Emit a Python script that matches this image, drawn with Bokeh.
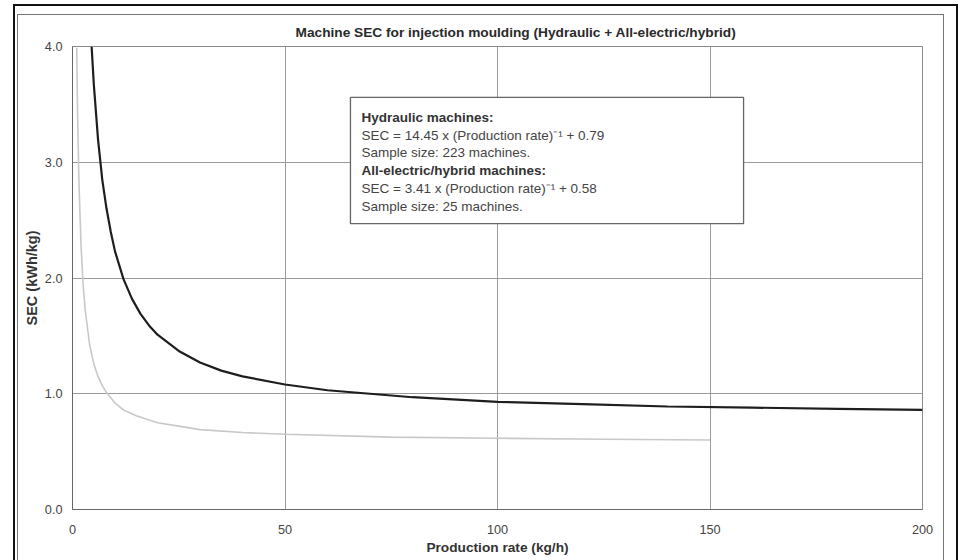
from bokeh.plotting import figure
from bokeh.models import Range1d, BoxAnnotation, Label, FixedTicker, PrintfTickFormatter
from bokeh.embed import file_html
from bokeh.resources import INLINE

# ---- data ----
title_text = "Machine SEC for injection moulding (Hydraulic + All-electric/hybrid)"
x_title = "Production rate (kg/h)"
y_title = "SEC (kWh/kg)"
x_ticks = [0, 50, 100, 150, 200]
y_ticks = [0, 1, 2, 3, 4]

hyd_rate = [4.5, 5, 6, 7, 8, 9, 10, 12, 14, 16, 18, 20, 25, 30, 35, 40, 50, 60, 70, 80,
            100, 120, 140, 160, 180, 200]
hyd_sec = [4.0, 3.68, 3.20, 2.85, 2.60, 2.40, 2.23, 1.99, 1.82, 1.69, 1.59, 1.51, 1.37, 1.27,
           1.20, 1.15, 1.08, 1.03, 1.00, 0.97, 0.93, 0.91, 0.89, 0.88, 0.87, 0.86]

ele_rate = [1.0, 1.2, 1.5, 2, 2.5, 3, 4, 5, 6, 7, 8, 10, 12, 15, 20, 25, 30, 40, 50, 75,
            100, 125, 150]
ele_sec = [3.99, 3.42, 2.85, 2.29, 1.94, 1.72, 1.43, 1.26, 1.15, 1.07, 1.01, 0.92, 0.86, 0.81,
           0.75, 0.72, 0.69, 0.665, 0.65, 0.625, 0.615, 0.607, 0.60]

note_lines = [
    "Hydraulic machines:",
    "SEC = 14.45 x (Production rate)\u207b\u00b9 + 0.79",
    "Sample size: 223 machines.",
    "All-electric/hybrid machines:",
    "SEC = 3.41 x (Production rate)\u207b\u00b9 + 0.58",
    "Sample size: 25 machines.",
]
note_bold = [True, False, False, True, False, False]

FONT = "Liberation Sans"

p = figure(width=943, height=560, x_range=Range1d(0, 200), y_range=Range1d(0, 4),
           output_backend="svg", toolbar_location=None,
           min_border_left=72, min_border_right=21, min_border_top=46, min_border_bottom=51)

# page frame: outer black rule and inner grey rule (drawn as CSS shadows)
p.styles = {
    "box-shadow": ("inset 13px 0 0 0 #fff, inset 0 4px 0 0 #fff, "
                   "inset 15px 0 0 0 #111, inset 0 6px 0 0 #111, "
                   "inset 17px 14px 0 0 #fff, inset 18px 15px 0 0 #777, "
                   "1px 14px 0 0 #777, 13px 6px 0 0 #fff, 15px 4px 0 0 #111"),
}
p.background_fill_color = "white"
p.border_fill_color = None
p.outline_line_color = "#8a8a8a"
p.outline_line_width = 1

p.title.text = title_text
p.title.text_font = FONT
p.title.text_font_size = "13.7px"
p.title.text_font_style = "bold"
p.title.text_color = "#2a2a2a"
p.title.align = "left"
p.title.offset = 223
p.title.vertical_align = "bottom"
p.title.standoff = 14

for ax in (p.xaxis[0], p.yaxis[0]):
    ax.axis_line_color = "#666666"
    ax.axis_line_width = 1
    ax.major_tick_out = 0
    ax.major_tick_in = 0
    ax.minor_tick_out = 0
    ax.minor_tick_in = 0
    ax.major_label_text_font = FONT
    ax.major_label_text_font_size = "12.7px"
    ax.major_label_text_color = "#444444"
    ax.axis_label_text_font = FONT
    ax.axis_label_text_font_style = "bold"
    ax.axis_label_text_color = "#333333"

p.xaxis.ticker = FixedTicker(ticks=x_ticks)
p.yaxis.ticker = FixedTicker(ticks=y_ticks)
p.yaxis.formatter = PrintfTickFormatter(format="%.1f")
p.xaxis.axis_label = x_title
p.yaxis.axis_label = y_title
p.xaxis.axis_label_text_font_size = "13.7px"
p.yaxis.axis_label_text_font_size = "14.5px"
p.xaxis.major_label_standoff = 15
p.xaxis.axis_label_standoff = 3
p.yaxis.major_label_standoff = 10
p.yaxis.axis_label_standoff = 2

p.xgrid.ticker = FixedTicker(ticks=x_ticks)
p.ygrid.ticker = FixedTicker(ticks=y_ticks)
p.grid.grid_line_color = "#9a9a9a"
p.grid.grid_line_width = 1

p.line(ele_rate, ele_sec, line_color="#c8c8c8", line_width=1.6)
p.line(hyd_rate, hyd_sec, line_color="#1e1e1e", line_width=2.2)

p.add_layout(BoxAnnotation(left=65.4, right=157.9, top=3.56, bottom=2.47,
                           fill_color="white", fill_alpha=1.0,
                           line_color="#666666", line_alpha=1.0, line_width=1.3))

line_y = [3.39, 3.235, 3.08, 2.925, 2.77, 2.615]
for txt, b, yy in zip(note_lines, note_bold, line_y):
    p.add_layout(Label(x=68.0, y=yy, text=txt, text_font=FONT, text_font_size="13.5px",
                       text_font_style="bold" if b else "normal",
                       text_color="#333333" if b else "#444444",
                       text_baseline="middle", text_align="left"))

open("out.html", "w").write(file_html(p, INLINE))
